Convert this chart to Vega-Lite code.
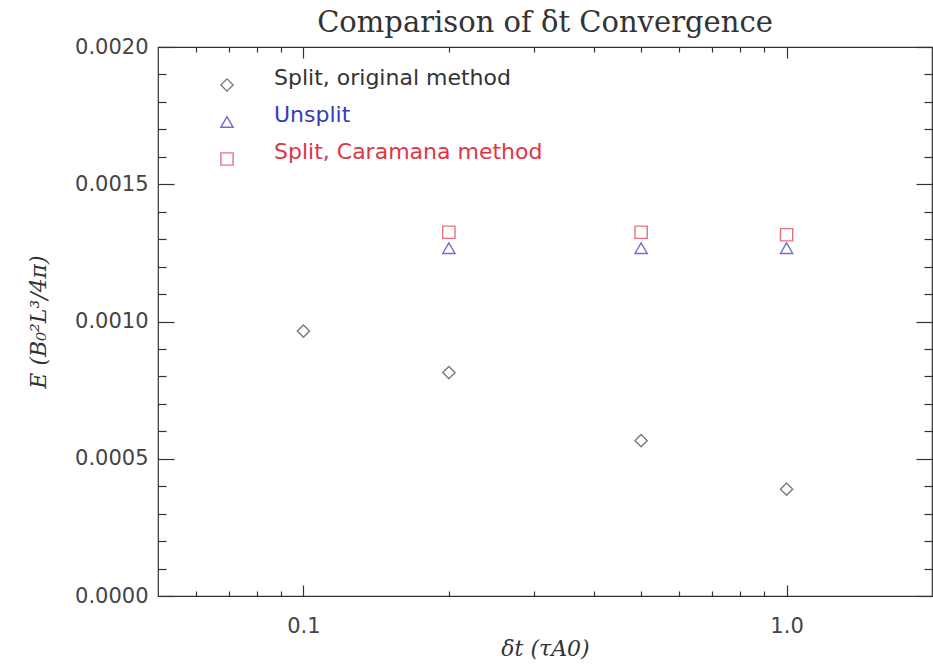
{
  "$schema": "https://vega.github.io/schema/vega-lite/v6.json",
  "width": 774,
  "height": 549,
  "autosize": {"type": "none"},
  "padding": {"left": 158, "top": 47, "right": 1, "bottom": 73},
  "background": "white",
  "title": {
    "text": "Comparison of δt Convergence",
    "font": "DejaVu Serif",
    "fontSize": 29,
    "fontWeight": "normal",
    "color": "#333",
    "anchor": "middle",
    "baseline": "alphabetic",
    "offset": -25
  },
  "config": {
    "view": {"stroke": "#333", "strokeWidth": 1.2},
    "axis": {
      "grid": false,
      "domain": false,
      "tickColor": "#333",
      "tickWidth": 1.2,
      "labelFont": "DejaVu Sans",
      "labelFontSize": 21,
      "labelColor": "#444",
      "titleFont": "DejaVu Serif",
      "titleFontStyle": "italic",
      "titleFontWeight": "normal",
      "titleFontSize": 22,
      "titleColor": "#333"
    },
    "legend": {
      "orient": "none",
      "legendX": 58,
      "legendY": 27,
      "padding": 0,
      "symbolSize": 150,
      "symbolStrokeWidth": 1.4,
      "labelFont": "DejaVu Sans",
      "labelFontSize": 22,
      "labelBaseline": "alphabetic",
      "labelOffset": 36,
      "labelLimit": 500,
      "rowPadding": 10
    }
  },
  "data": {
    "values": [
      {"dt": 0.1, "E": 0.000965, "series": "Split, original method"},
      {"dt": 0.2, "E": 0.000814, "series": "Split, original method"},
      {"dt": 0.5, "E": 0.000566, "series": "Split, original method"},
      {"dt": 1.0, "E": 0.000389, "series": "Split, original method"},
      {"dt": 0.2, "E": 0.001267, "series": "Unsplit"},
      {"dt": 0.5, "E": 0.001267, "series": "Unsplit"},
      {"dt": 1.0, "E": 0.001267, "series": "Unsplit"},
      {"dt": 0.2, "E": 0.001325, "series": "Split, Caramana method"},
      {"dt": 0.5, "E": 0.001325, "series": "Split, Caramana method"},
      {"dt": 1.0, "E": 0.001316, "series": "Split, Caramana method"}
    ]
  },
  "layer": [
    {
      "mark": {"type": "point", "filled": false, "strokeWidth": 1.4, "size": 150},
      "encoding": {
        "x": {
          "field": "dt", "type": "quantitative",
          "scale": {"type": "log", "domain": [0.05, 2], "nice": false},
          "axis": {"orient": "bottom", "values": [0.1, 1], "format": ".1f", "tickSize": -11, "labelPadding": 30,
                   "title": "δt (τA0)", "titleY": 59, "titleBaseline": "alphabetic"}
        },
        "y": {
          "field": "E", "type": "quantitative",
          "scale": {"domain": [0, 0.002], "nice": false, "zero": false},
          "axis": {"orient": "left", "values": [0, 0.0005, 0.001, 0.0015, 0.002], "format": ".4f", "tickSize": -16, "labelPadding": 26,
                   "title": "E (B₀²L³/4π)", "titleX": -120, "titleY": 274.5, "titleAngle": 270, "titleBaseline": "middle", "titleAlign": "center"}
        },
        "color": {
          "field": "series", "type": "nominal",
          "scale": {"domain": ["Split, original method", "Unsplit", "Split, Caramana method"], "range": ["#444444", "#3535b5", "#e3344a"]},
          "legend": {
            "title": null,
            "labelColor": {"expr": "datum.value === 'Unsplit' ? '#3a3ab8' : (datum.value === 'Split, Caramana method' ? '#e03545' : '#333333')"},
            "encode": {"labels": {"update": {"fill": {"signal": "datum.value === 'Unsplit' ? '#3a3ab8' : (datum.value === 'Split, Caramana method' ? '#e03545' : '#333333')"}}}}
          }
        },
        "shape": {
          "field": "series", "type": "nominal",
          "scale": {"domain": ["Split, original method", "Unsplit", "Split, Caramana method"], "range": ["diamond", "triangle-up", "square"]},
          "legend": {
            "title": null,
            "labelColor": {"expr": "datum.value === 'Unsplit' ? '#3a3ab8' : (datum.value === 'Split, Caramana method' ? '#e03545' : '#333333')"},
            "encode": {"labels": {"update": {"fill": {"signal": "datum.value === 'Unsplit' ? '#3a3ab8' : (datum.value === 'Split, Caramana method' ? '#e03545' : '#333333')"}}}}
          }
        }
      }
    },
    {
      "mark": {"type": "point", "opacity": 0},
      "encoding": {
        "x": {"field": "dt", "type": "quantitative", "axis": {"orient": "top", "values": [0.1, 1], "labels": false, "tickSize": -11, "title": null}},
        "y": {"field": "E", "type": "quantitative", "axis": {"orient": "right", "values": [0, 0.0005, 0.001, 0.0015, 0.002], "labels": false, "tickSize": -16, "title": null}}
      }
    },
    {
      "mark": {"type": "point", "opacity": 0},
      "encoding": {
        "x": {"field": "dt", "type": "quantitative", "axis": {"orient": "bottom", "values": [0.06, 0.07, 0.08, 0.09, 0.2, 0.3, 0.4, 0.5, 0.6, 0.7, 0.8, 0.9], "labels": false, "tickSize": -5, "title": null}},
        "y": {"field": "E", "type": "quantitative", "axis": {"orient": "left", "values": [0.0001, 0.0002, 0.0003, 0.0004, 0.0006, 0.0007, 0.0008, 0.0009, 0.0011, 0.0012, 0.0013, 0.0014, 0.0016, 0.0017, 0.0018, 0.0019], "labels": false, "tickSize": -8, "title": null}}
      }
    },
    {
      "mark": {"type": "point", "opacity": 0},
      "encoding": {
        "x": {"field": "dt", "type": "quantitative", "axis": {"orient": "top", "values": [0.06, 0.07, 0.08, 0.09, 0.2, 0.3, 0.4, 0.5, 0.6, 0.7, 0.8, 0.9], "labels": false, "tickSize": -5, "title": null}},
        "y": {"field": "E", "type": "quantitative", "axis": {"orient": "right", "values": [0.0001, 0.0002, 0.0003, 0.0004, 0.0006, 0.0007, 0.0008, 0.0009, 0.0011, 0.0012, 0.0013, 0.0014, 0.0016, 0.0017, 0.0018, 0.0019], "labels": false, "tickSize": -8, "title": null}}
      }
    }
  ],
  "resolve": {"axis": {"x": "independent", "y": "independent"}}
}
